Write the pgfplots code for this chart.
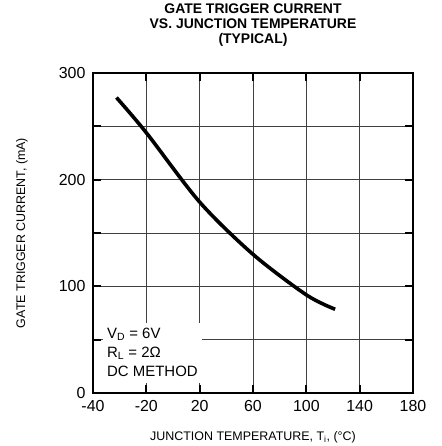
\documentclass[border=0pt]{standalone}
\usepackage{fontspec}
\setmainfont{Liberation Sans}
\usepackage{pgfplots}
\pgfplotsset{compat=1.18}

\begin{document}
\begin{tikzpicture}
% page frame: axis box is 320bp square at the origin, 93bp left, 29bp right,
% 73bp above and 53bp below it
\useasboundingbox (-93bp,-53bp) rectangle (349bp,393bp);
\begin{axis}[
  at={(0,0)}, anchor=south west,
  width=320bp, height=320bp, scale only axis,
  xmin=0, xmax=6, ymin=0, ymax=300,
  xtick={0,...,6}, xticklabels={-40,-20,20,60,100,140,180},
  ytick={0,100,200,300}, minor ytick={50,150,250},
  grid=both,
  major grid style={black!75, line width=0.8bp},
  minor grid style={black!75, line width=0.8bp},
  axis line style={line width=1.8bp},
  tick style={black, line width=1.8bp},
  major tick length=8bp, minor tick length=8bp,
  tick align=inside,
  /pgf/number format/assume math mode=true,
  ticklabel style={font=\fontsize{16}{19}\selectfont},
  yticklabel style={xshift=-4bp},
  xticklabel style={yshift=-4bp},
  xlabel={JUNCTION TEMPERATURE, T\textsubscript{i}, (°C)},
  ylabel={GATE TRIGGER CURRENT, (mA)},
  label style={font=\fontsize{12.5}{15}\selectfont},
  xlabel style={at={(axis description cs:0.5,-0.1375)}, anchor=center},
  ylabel style={at={(axis description cs:-0.222,0.5)}, anchor=center},
  title={GATE TRIGGER CURRENT\\VS. JUNCTION TEMPERATURE\\(TYPICAL)},
  title style={font=\bfseries\fontsize{14}{15.5}\selectfont, align=center,
    anchor=south, inner sep=0pt, yshift=20bp},
]

\addplot[black, line width=3.6bp, smooth] coordinates {
  (0.44,277) (1,244) (2,179) (3,130) (4,92) (4.54,78.5)
};

% white patch that hides the grid behind the test conditions
\node[fill=white, anchor=south west, inner sep=0pt, minimum width=99bp,
  minimum height=60bp, xshift=9.5bp, yshift=10bp] at (rel axis cs:0,0) {};
\node[anchor=north west, align=left, inner sep=0pt, xshift=14bp, yshift=65bp,
  font=\fontsize{15}{19}\selectfont] at (rel axis cs:0,0)
  {V\textsubscript{D} = 6V\\R\textsubscript{L} = 2Ω\\DC METHOD};
\end{axis}
\end{tikzpicture}
\end{document}
